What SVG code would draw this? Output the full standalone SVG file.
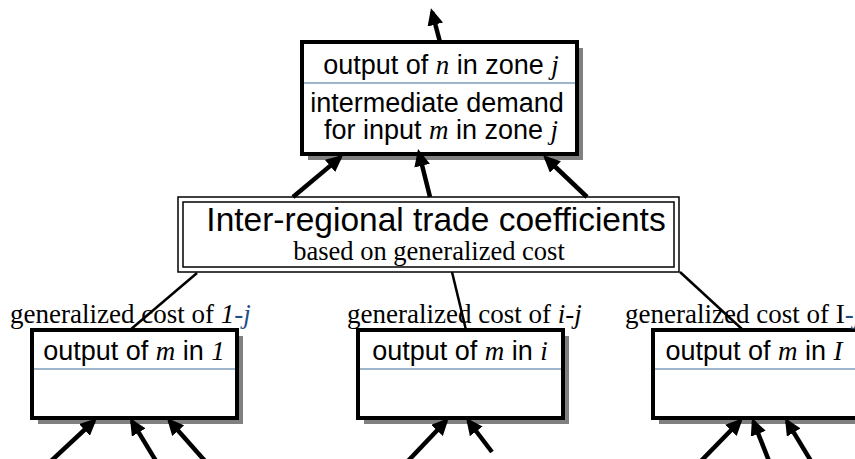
<svg xmlns="http://www.w3.org/2000/svg" width="855" height="459" viewBox="0 0 855 459">
<defs>
<marker id="ah" markerUnits="userSpaceOnUse" markerWidth="18" markerHeight="16" viewBox="0 0 18 16" refX="13" refY="8" orient="auto"><path d="M0,0 L17,8 L0,16 z" fill="#000"/></marker>
</defs>
<style>
.box{fill:#fff;stroke:#000;stroke-width:4}
.shadow{fill:#808080}
.div{stroke:#41719c;stroke-width:1.2}
.sans{font-family:"Liberation Sans",Arial,sans-serif;font-size:27px;fill:#000}
.it{font-family:"Liberation Serif","Times New Roman",serif;font-style:italic}
.lbl{font-family:"Liberation Serif","Times New Roman",serif;font-size:27px;fill:#000}
.blue{fill:#1f4e8c}
.arrow{stroke:#000;stroke-width:4.5;fill:none;marker-end:url(#ah)}
.link{stroke:#000;stroke-width:2.5}
.dbl{fill:none;stroke:#000;stroke-width:1.5}
</style>
<rect width="855" height="459" fill="#fff"/>

<g id="node-output-n">
<rect class="shadow" x="308" y="48" width="275" height="112"/>
<rect class="box" x="302" y="42" width="275" height="112"/>
<line class="div" x1="304" y1="83" x2="575" y2="83"/>
<text class="sans" x="441" y="74" text-anchor="middle">output of <tspan class="it">n</tspan> in zone <tspan class="it">j</tspan></text>
<text class="sans" x="437" y="112" text-anchor="middle">intermediate demand</text>
<text class="sans" x="441" y="139" text-anchor="middle">for input <tspan class="it">m</tspan> in zone <tspan class="it">j</tspan></text>
</g>

<g id="node-trade">
<rect x="178" y="197" width="501" height="75" fill="#fff" stroke="#000" stroke-width="1.5"/>
<rect class="dbl" x="183" y="202" width="491" height="65"/>
<text x="436" y="231" text-anchor="middle" font-family="Liberation Sans, Arial, sans-serif" font-size="33.5">Inter-regional trade coefficients</text>
<text x="429" y="260" text-anchor="middle" font-family="Liberation Serif, Times New Roman, serif" font-size="26.5">based on generalized cost</text>
</g>

<g id="node-zone-1">
<rect class="shadow" x="38" y="336" width="205" height="88"/>
<rect class="box" x="32" y="330" width="205" height="88"/>
<line class="div" x1="34" y1="369" x2="235" y2="369"/>
<text class="sans" x="134" y="360" text-anchor="middle">output of <tspan class="it">m</tspan> in <tspan class="it">1</tspan></text>
<text class="lbl" x="10" y="323">generalized cost of <tspan class="it">1</tspan><tspan class="it blue">-j</tspan></text>
</g>

<g id="node-zone-i">
<rect class="shadow" x="364" y="336" width="205" height="88"/>
<rect class="box" x="358" y="330" width="205" height="88"/>
<line class="div" x1="360" y1="369" x2="561" y2="369"/>
<text class="sans" x="460" y="360" text-anchor="middle">output of <tspan class="it">m</tspan> in <tspan class="it">i</tspan></text>
<text class="lbl" x="347" y="323">generalized cost of <tspan class="it">i-j</tspan></text>
</g>

<g id="node-zone-I">
<rect class="shadow" x="659" y="336" width="205" height="88"/>
<rect class="box" x="653" y="330" width="205" height="88"/>
<line class="div" x1="655" y1="369" x2="856" y2="369"/>
<text class="sans" x="754" y="360" text-anchor="middle">output of <tspan class="it">m</tspan> in <tspan class="it">I</tspan></text>
<text class="lbl" x="625" y="323">generalized cost of I<tspan class="it blue">-j</tspan></text>
</g>

<g id="connectors">
<line class="arrow" x1="440" y1="42" x2="432" y2="12"/>
<line class="arrow" x1="293" y1="197" x2="340" y2="157.6"/>
<line class="arrow" x1="430" y1="197" x2="419" y2="153"/>
<line class="arrow" x1="587" y1="197" x2="546" y2="158"/>
<line class="link" x1="197" y1="273" x2="130" y2="330"/>
<line class="link" x1="452" y1="272" x2="466" y2="330"/>
<line class="link" x1="680" y1="272" x2="743" y2="330"/>
<line class="arrow" x1="51" y1="461" x2="94" y2="421"/>
<line class="arrow" x1="156" y1="461" x2="132" y2="421.4"/>
<line class="arrow" x1="205" y1="461" x2="169.6" y2="421"/>
<line class="arrow" x1="408" y1="461" x2="446" y2="421"/>
<line class="arrow" x1="492" y1="452" x2="468.4" y2="421"/>
<line class="arrow" x1="701" y1="461" x2="740" y2="421"/>
<line class="arrow" x1="769" y1="461" x2="753.5" y2="421.7"/>
<line class="arrow" x1="811" y1="461" x2="787" y2="421.4"/>
</g>
</svg>
